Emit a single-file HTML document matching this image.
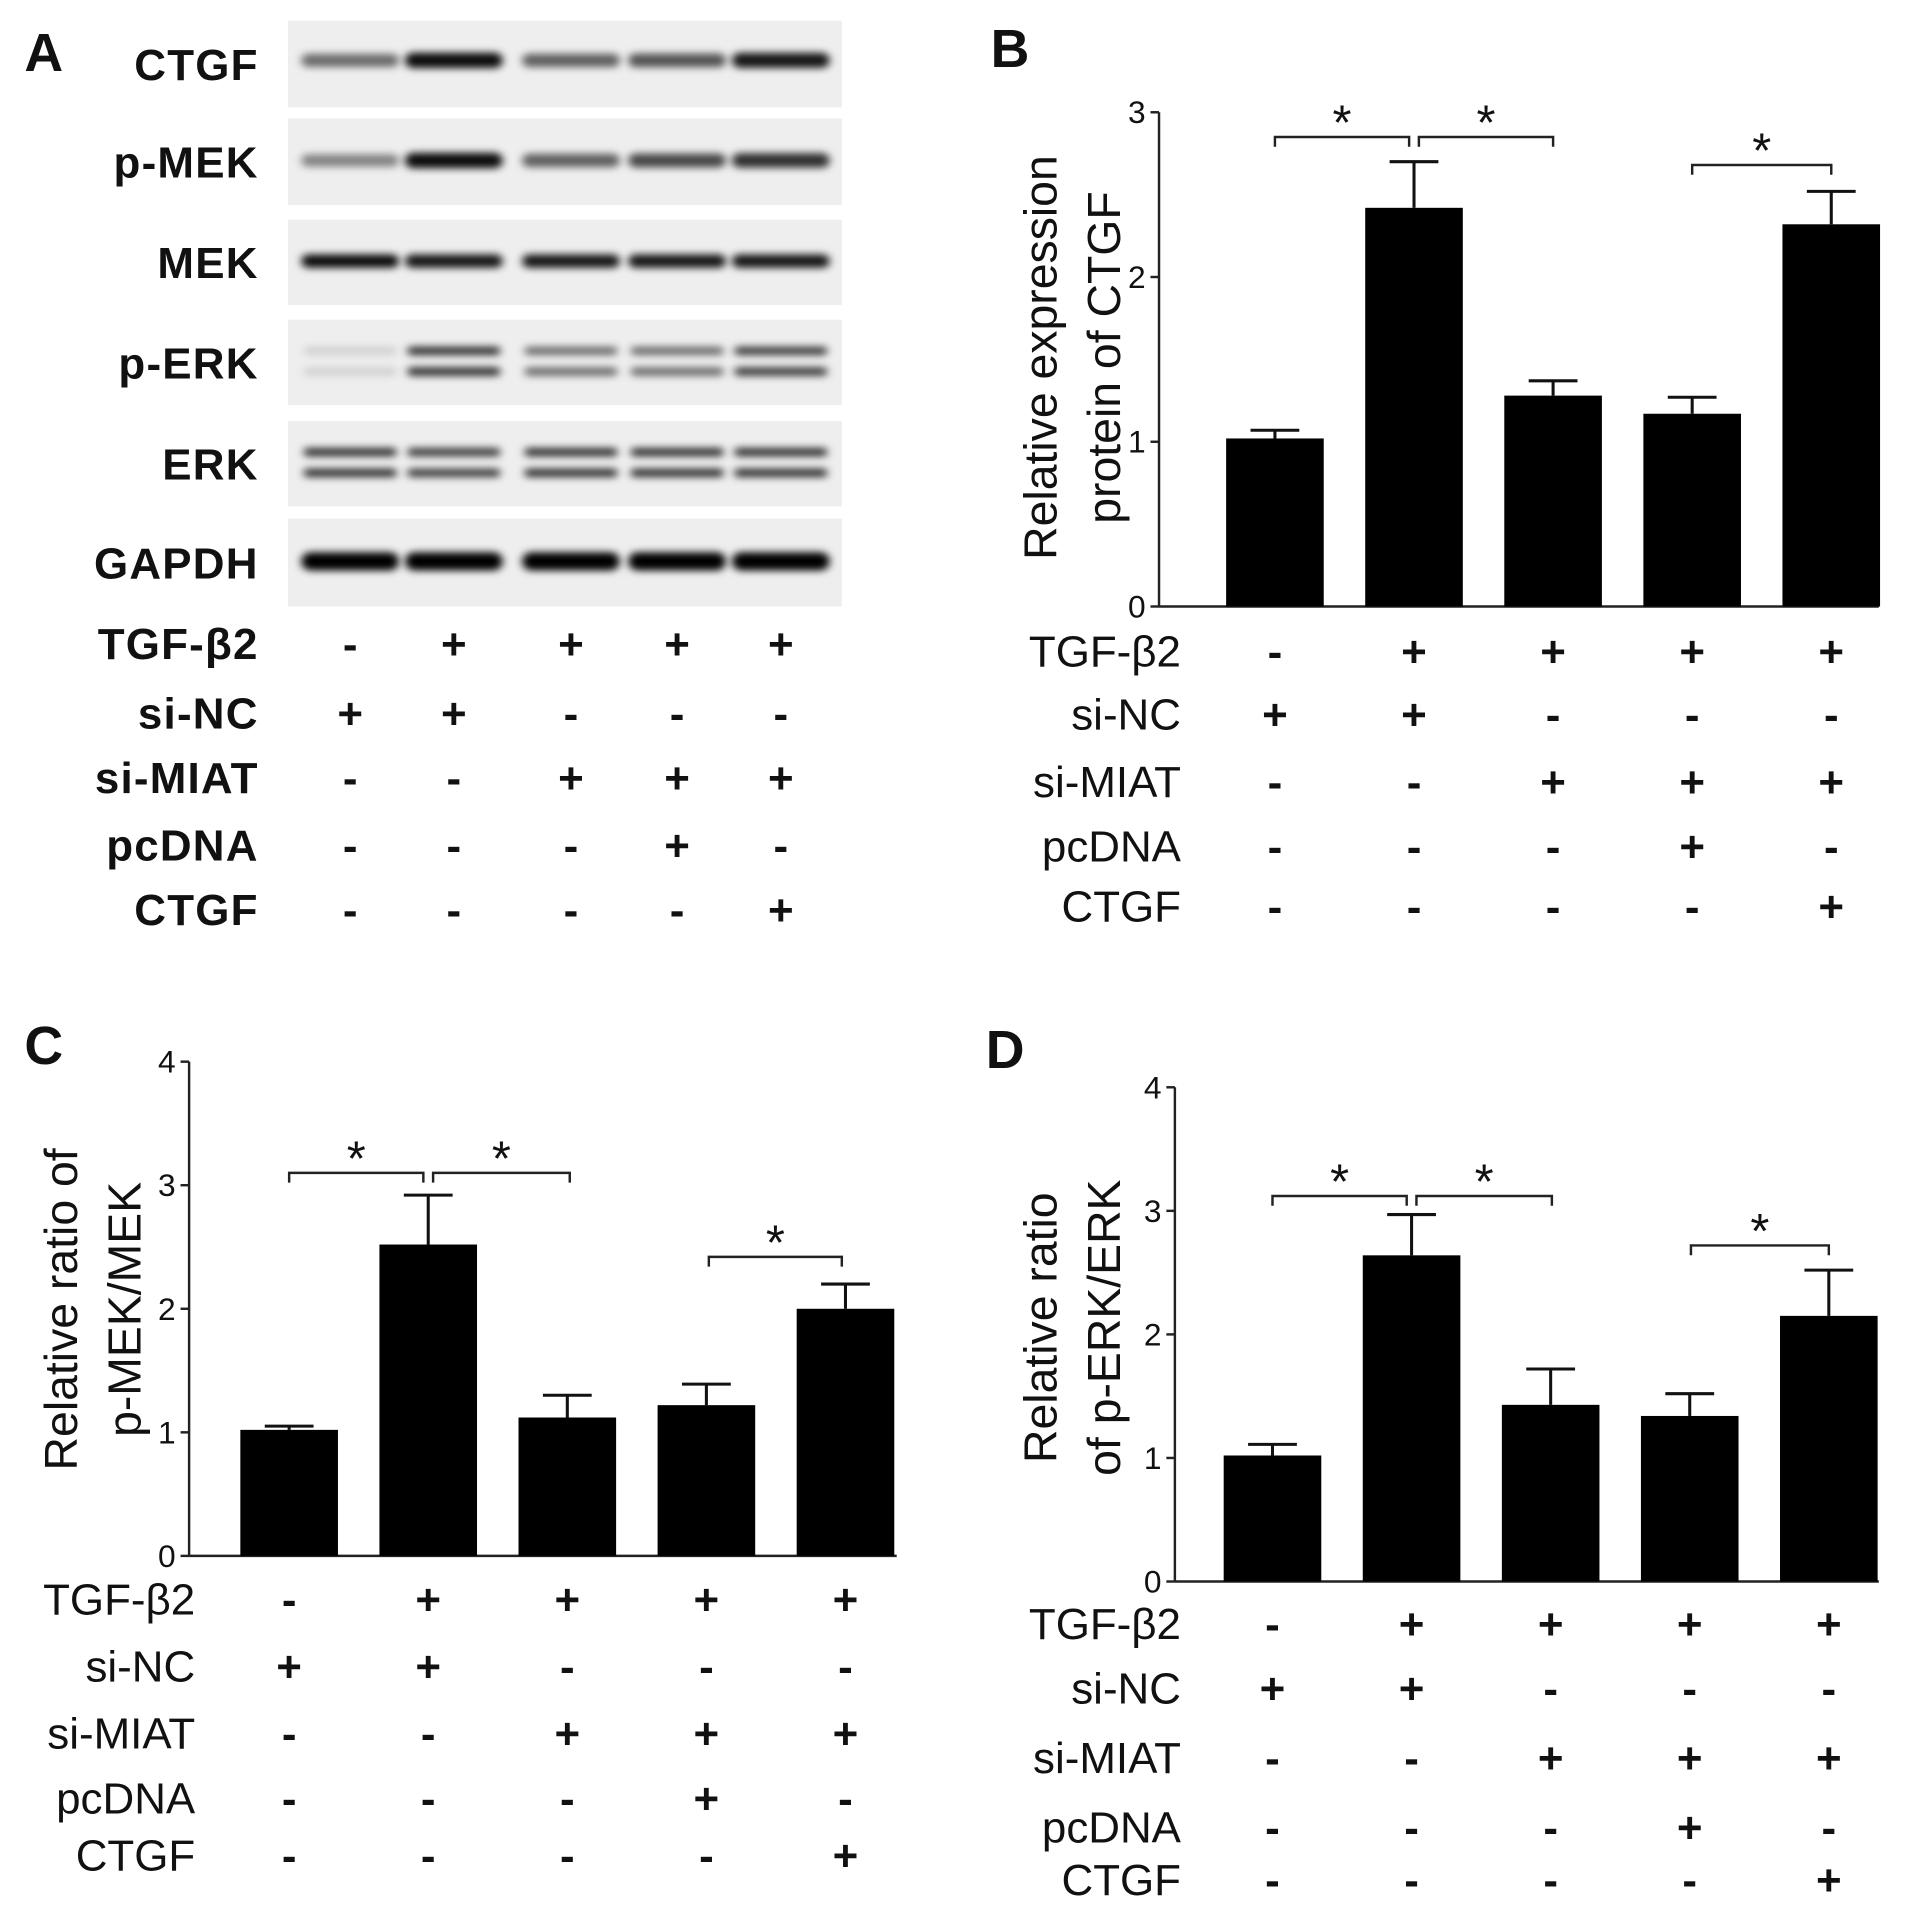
<!DOCTYPE html>
<html><head><meta charset="utf-8">
<style>
html,body{margin:0;padding:0;background:#fff}
svg{display:block}
text{font-family:"Liberation Sans",Arial,sans-serif;fill:#111}
</style></head>
<body>
<svg id="fig" width="1913" height="1911" viewBox="0 0 1568 1566" preserveAspectRatio="none" xmlns="http://www.w3.org/2000/svg">
<defs>
<filter id="blur" x="-30%" y="-200%" width="160%" height="500%"><feGaussianBlur stdDeviation="3.5 3"/></filter>
</defs>
<text x="20" y="58" font-size="44" font-weight="bold">A</text>
<text x="812" y="55" font-size="44" font-weight="bold">B</text>
<text x="20" y="872" font-size="44" font-weight="bold">C</text>
<text x="808" y="875" font-size="44" font-weight="bold">D</text>
<g id="blot"></g>
<g id="chartB"></g>
<g id="chartC"></g>
<g id="chartD"></g>
</svg>
<script>
const NS="http://www.w3.org/2000/svg";
const conditions=["TGF-β2","si-NC","si-MIAT","pcDNA","CTGF"];
const signs=[["-","+","+","+","+"],["+","+","-","-","-"],["-","-","+","+","+"],["-","-","-","+","-"],["-","-","-","-","+"]];
const groups=["g1","g2","g3","g4","g5"];
const ctgfMeans=[1.02,2.42,1.28,1.17,2.32];
const ctgfErr=[0.05,0.28,0.09,0.10,0.20];
const pmekMeans=[1.02,2.52,1.12,1.22,2.00];
const pmekErr=[0.03,0.40,0.18,0.17,0.20];
const perkMeans=[1.02,2.64,1.43,1.34,2.15];
const perkErr=[0.09,0.33,0.29,0.18,0.37];
const blotRows=["CTGF","p-MEK","MEK","p-ERK","ERK","GAPDH"];
const bandIntensity=[[0.55,0.95,0.6,0.65,0.9],[0.45,0.95,0.6,0.7,0.8],[0.95,0.9,0.9,0.9,0.9],[0.12,0.8,0.55,0.55,0.75],[0.8,0.75,0.8,0.8,0.8],[1,1,1,1,1]];

function el(tag,attrs,parent,txt){const e=document.createElementNS(NS,tag);for(const k in attrs)e.setAttribute(k,attrs[k]);if(txt!=null)e.textContent=txt;parent.appendChild(e);return e;}

function table(g,labelX,colX,rowY){
  conditions.forEach((c,i)=>{
    const t=el("text",{x:labelX,y:rowY[i]+13,"font-size":36,"text-anchor":"end"},g,c);
    
    
    signs[i].forEach((s,j)=>{
      const st=el("text",{x:colX[j],y:rowY[i]+13,"font-size":36,"font-weight":"bold","text-anchor":"middle"},g,s);
      
      
    });
  });
}

function barChart(g,o){
  const y=v=>o.y0-(v/o.max)*(o.y0-o.yTop);
  const x=i=>o.x0+o.first+i*o.step;
  el("line",{x1:o.x0,y1:o.yTop,x2:o.x0,y2:o.y0,stroke:"#222","stroke-width":2},g);
  el("line",{x1:o.x0,y1:o.y0,x2:o.xEnd,y2:o.y0,stroke:"#222","stroke-width":2},g);
  for(let t=0;t<=o.max;t++){
    el("line",{x1:o.x0-7,y1:y(t),x2:o.x0,y2:y(t),stroke:"#222","stroke-width":2},g);
    const tl=el("text",{x:o.x0-11,y:y(t)+9,"font-size":26,"text-anchor":"end",fill:"#333"},g,String(t));
    
    
  }
  o.means.forEach((m,i)=>{
    const cx=x(i),top=y(m+o.err[i]);
    const l=el("line",{x1:cx,y1:y(m),x2:cx,y2:top,stroke:"#111","stroke-width":2.5},g);
    
    
    el("line",{x1:cx-20,y1:top,x2:cx+20,y2:top,stroke:"#111","stroke-width":2.5},g);
    const r=el("rect",{x:cx-40,y:y(m),width:80,height:o.y0-y(m),fill:"#000"},g);
    
    
  });
  o.brackets.forEach(b=>{
    const x1=x(b[0])+(b[3]||0),x2=x(b[1])+(b[4]||0),by=y(b[2]);
    const p=el("path",{d:`M${x1},${by+8}V${by}H${x2}V${by+8}`,fill:"none",stroke:"#222","stroke-width":2},g);
    
    
    const s=el("text",{x:(x1+x2)/2,y:by+2,"font-size":40,"text-anchor":"middle"},g,"*");
    
    
  });
  const ty=el("text",{transform:`translate(${o.labX},${o.labY}) rotate(-90)`,"font-size":38,"text-anchor":"middle"},g);
  
  
  el("tspan",{x:0,y:0},ty,o.title[0]);
  el("tspan",{x:0,y:52},ty,o.title[1]);
  table(g,o.tabX,o.means.map((_,i)=>x(i)),o.rows);
}

barChart(document.getElementById("chartB"),{x0:950,xEnd:1540,y0:497,yTop:92,max:3,first:95,step:114,means:ctgfMeans,err:ctgfErr,
  brackets:[[0,1,2.85,0,-4],[1,2,2.85,4,0],[3,4,2.68,0,0]],labX:866,labY:293,title:["Relative expression","protein of CTGF"],tabX:968,rows:[533,585,640,693,742]});
barChart(document.getElementById("chartC"),{x0:155,xEnd:735,y0:1275,yTop:870,max:4,first:82,step:114,means:pmekMeans,err:pmekErr,
  brackets:[[0,1,3.1,0,-4],[1,2,3.1,4,2],[3,4,2.42,2,-3]],labX:63,labY:1073,title:["Relative ratio of","p-MEK/MEK"],tabX:160,rows:[1310,1365,1420,1473,1520]});
barChart(document.getElementById("chartD"),{x0:963,xEnd:1540,y0:1296,yTop:891,max:4,first:80,step:114,means:perkMeans,err:perkErr,
  brackets:[[0,1,3.12,0,-4],[1,2,3.12,4,1],[3,4,2.72,1,0]],labX:866,labY:1088,title:["Relative ratio","of p-ERK/ERK"],tabX:968,rows:[1330,1383,1440,1497,1540]});

// Western blot
(function(){
  const g=document.getElementById("blot");
  const tops=[17,97,180,262,345,425],h=[71,71,70,70,70,72];
  const lanes=[287,372,468,555,640];
  blotRows.forEach((r,i)=>{
    const bg=el("rect",{x:236,y:tops[i],width:454,height:h[i],fill:"#eeeeee"},g);
    
    
    const t=el("text",{x:212,y:tops[i]+h[i]/2+13,"font-size":36,"font-weight":"bold","letter-spacing":1},g,r);
    t.setAttribute("text-anchor","end");
    
    
    const cy=tops[i]+h[i]/2-4+(i==0?-2:0);
    lanes.forEach((lx,j)=>{
      const a=bandIntensity[i][j];
      const c=`rgba(0,0,0,${a})`;
      if(r==="p-ERK"||r==="ERK"){
        const b1=el("rect",{x:lx-38,y:cy-9,width:76,height:7,rx:3,fill:c,filter:"url(#blur)"},g);
        
        
        const b2=el("rect",{x:lx-38,y:cy+8,width:76,height:7,rx:3,fill:c,filter:"url(#blur)"},g);
        
        
      } else {
        const th=r==="GAPDH"?15:(r==="MEK"?11:8+a*5);
        const b=el("rect",{x:lx-40,y:cy-th/2+3,width:80,height:th,rx:th/2,fill:c,filter:"url(#blur)"},g);
        
        
      }
    });
  });
  const tg=el("g",{},g);
  
  
  table(tg,212,lanes,[527,584,637,692,745]);
  tg.querySelectorAll("text").forEach(t=>{if(t.getAttribute("text-anchor")==="end"){t.setAttribute("font-weight","bold");t.setAttribute("letter-spacing","1");}});
})();
</script>
</body></html>
